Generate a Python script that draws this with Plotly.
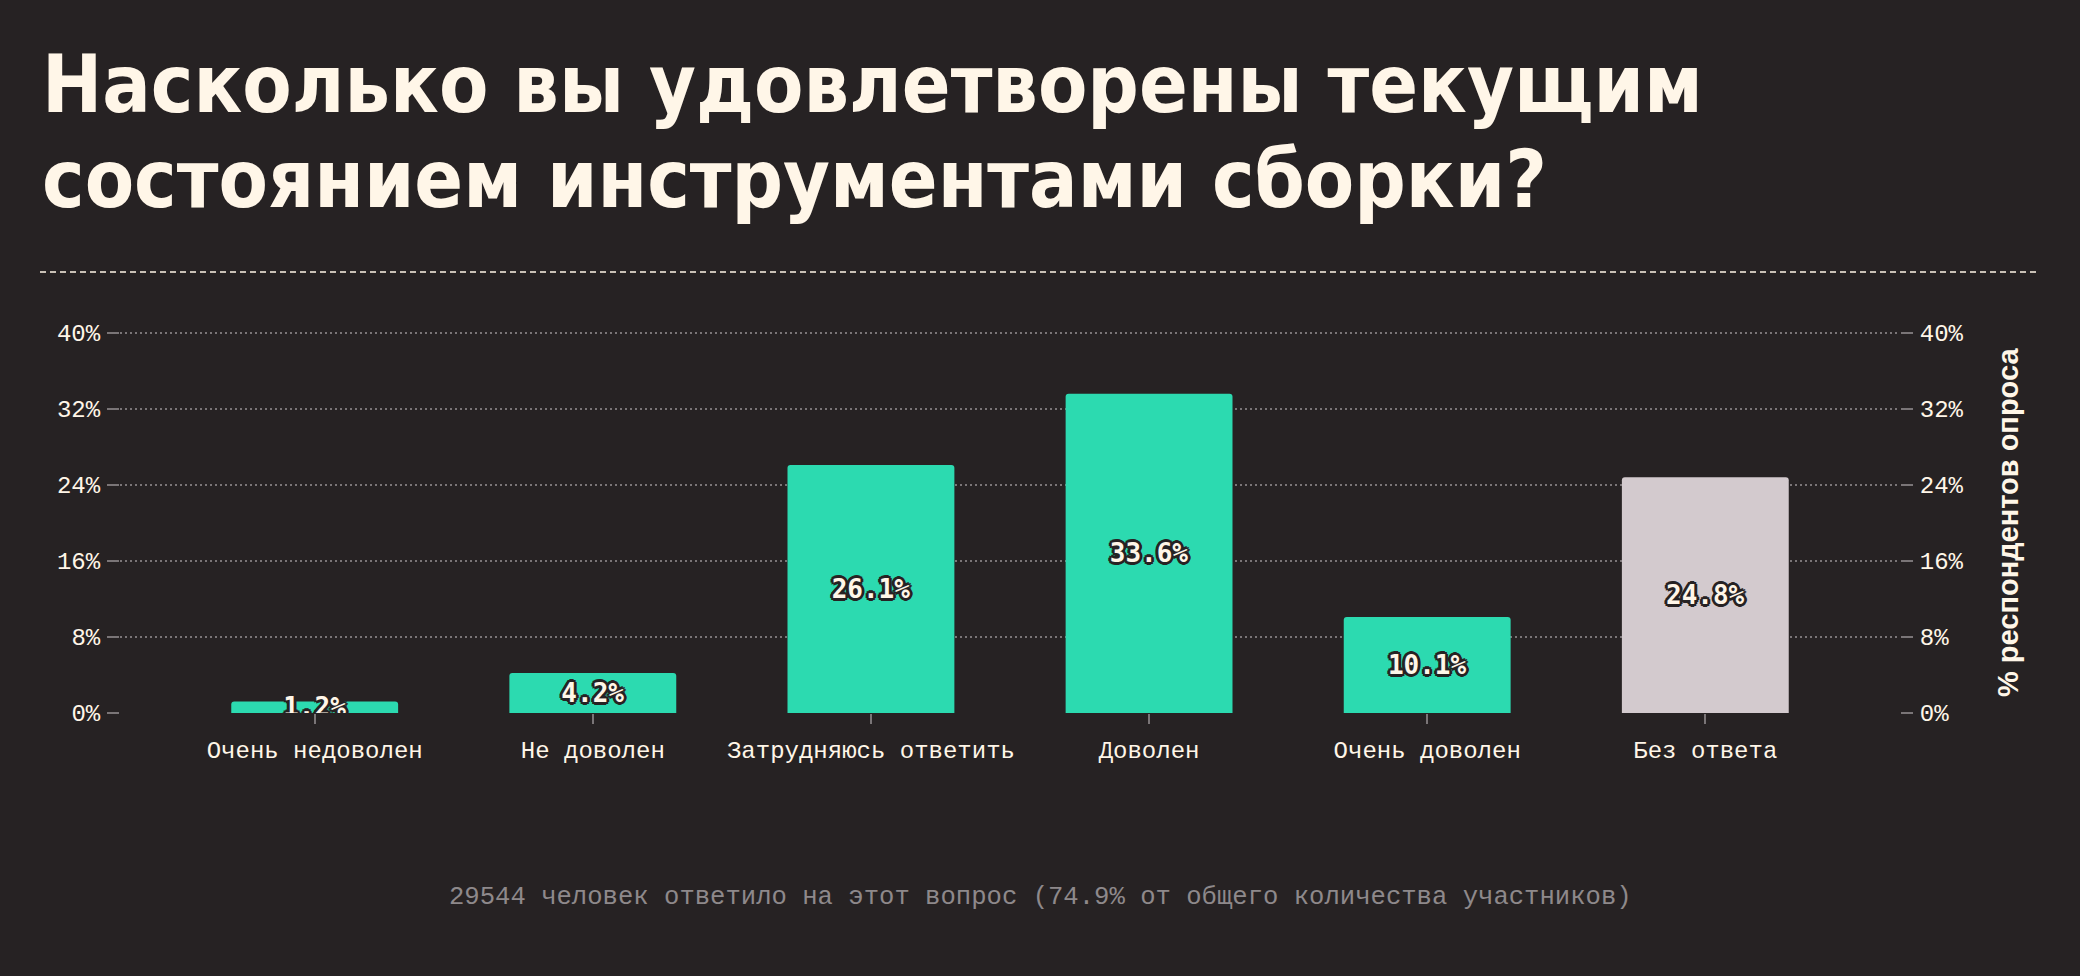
import plotly.graph_objects as go

categories = ["Очень недоволен", "Не доволен", "Затрудняюсь ответить", "Доволен", "Очень доволен", "Без ответа"]
values = [1.2, 4.2, 26.1, 33.6, 10.1, 24.8]
bar_colors = ["#2CDAB0", "#2CDAB0", "#2CDAB0", "#2CDAB0", "#2CDAB0", "#D3CACE"]
y_ticks = [0, 8, 16, 24, 32, 40]
title_lines = ["Насколько вы удовлетворены текущим", "состоянием инструментами сборки?"]
y_title = "% респондентов опроса"
footer = "29544 человек ответило на этот вопрос (74.9% от общего количества участников)"

W, H = 2080, 976
L, R, T, B = 120, 180, 330, 263
PW, PH = W - L - R, H - T - B

def px(x):
    return (x - L) / PW

def py(y):
    return (H - B - y) / PH

BG = "#262223"
CREAM = "#FFF6E8"
GRID = "#7A7577"
OUT = BG
sh = ", ".join(f"{dx}px {dy}px 0 {OUT}" for dx, dy in
               [(-2, -2), (2, -2), (-2, 2), (2, 2), (0, 2), (0, -2), (2, 0), (-2, 0),
                (-3, 0), (3, 0), (0, 3), (0, -3)])

fig = go.Figure()
fig.add_trace(go.Bar(
    x=categories, y=values,
    width=0.6,
    marker=dict(color=bar_colors, line=dict(width=0), cornerradius=3),
    text=[f"{v:.1f}%" for v in values],
    textposition="inside", insidetextanchor="middle",
    constraintext="none", textangle=0,
    textfont=dict(family="DejaVu Sans Mono", size=26, color=CREAM, weight="bold", shadow=sh),
    hoverinfo="skip",
))
fig.add_trace(go.Scatter(
    x=categories, y=values, yaxis="y2", mode="markers",
    marker=dict(opacity=0), hoverinfo="skip", showlegend=False,
))

tick_text = [f"{t}%" for t in y_ticks]
axis_font = dict(family="Liberation Mono", size=24, color=CREAM)
yax = dict(
    range=[0, 40.3], tickvals=y_ticks, ticktext=tick_text,
    showgrid=True, gridcolor=GRID, gridwidth=2, griddash="2px,3px",
    zeroline=False, showline=False,
    ticks="outside", ticklen=12, tickwidth=2, tickcolor=GRID,
    tickfont=axis_font, fixedrange=True, ticklabelstandoff=2,
)
fig.update_layout(
    width=W, height=H,
    paper_bgcolor=BG, plot_bgcolor=BG,
    margin=dict(l=L, r=R, t=T, b=B, autoexpand=False),
    showlegend=False,
    bargap=0.4,
    xaxis=dict(
        range=[-0.7, 5.7], showgrid=False, zeroline=False, showline=False,
        ticks="outside", ticklen=10, tickwidth=2, tickcolor=GRID,
        tickfont=axis_font, fixedrange=True, ticklabelstandoff=5,
    ),
    yaxis=yax,
    yaxis2=dict(yax, overlaying="y", side="right", showgrid=False),
    font=dict(family="Liberation Mono", color=CREAM),
)

# Title (two lines)
fig.add_annotation(text=title_lines[0], xref="paper", yref="paper",
                   x=px(40), y=py(36), xanchor="left", yanchor="top", showarrow=False,
                   font=dict(family="DejaVu Sans Condensed", size=80, color=CREAM, weight="bold"))
fig.add_annotation(text=title_lines[1], xref="paper", yref="paper",
                   x=px(40), y=py(131), xanchor="left", yanchor="top", showarrow=False,
                   font=dict(family="DejaVu Sans Condensed", size=80, color=CREAM, weight="bold"))

# Divider
fig.add_shape(type="line", xref="paper", yref="paper",
              x0=px(40), x1=px(2040), y0=py(272), y1=py(272),
              line=dict(color=CREAM, width=1.5, dash="6px,4px"))

# Right axis title
fig.add_annotation(text=y_title, xref="paper", yref="paper",
                   x=px(2008), y=py(523), xanchor="center", yanchor="middle", textangle=-90,
                   showarrow=False,
                   font=dict(family="Liberation Sans", size=29, color=CREAM, weight="bold"))

# Footer
fig.add_annotation(text=footer, xref="paper", yref="paper",
                   x=px(1040), y=py(897), xanchor="center", yanchor="middle", showarrow=False,
                   font=dict(family="Liberation Mono", size=25.6, color="#8E898B"))

fig.write_html("out.html", config={"displayModeBar": False})
